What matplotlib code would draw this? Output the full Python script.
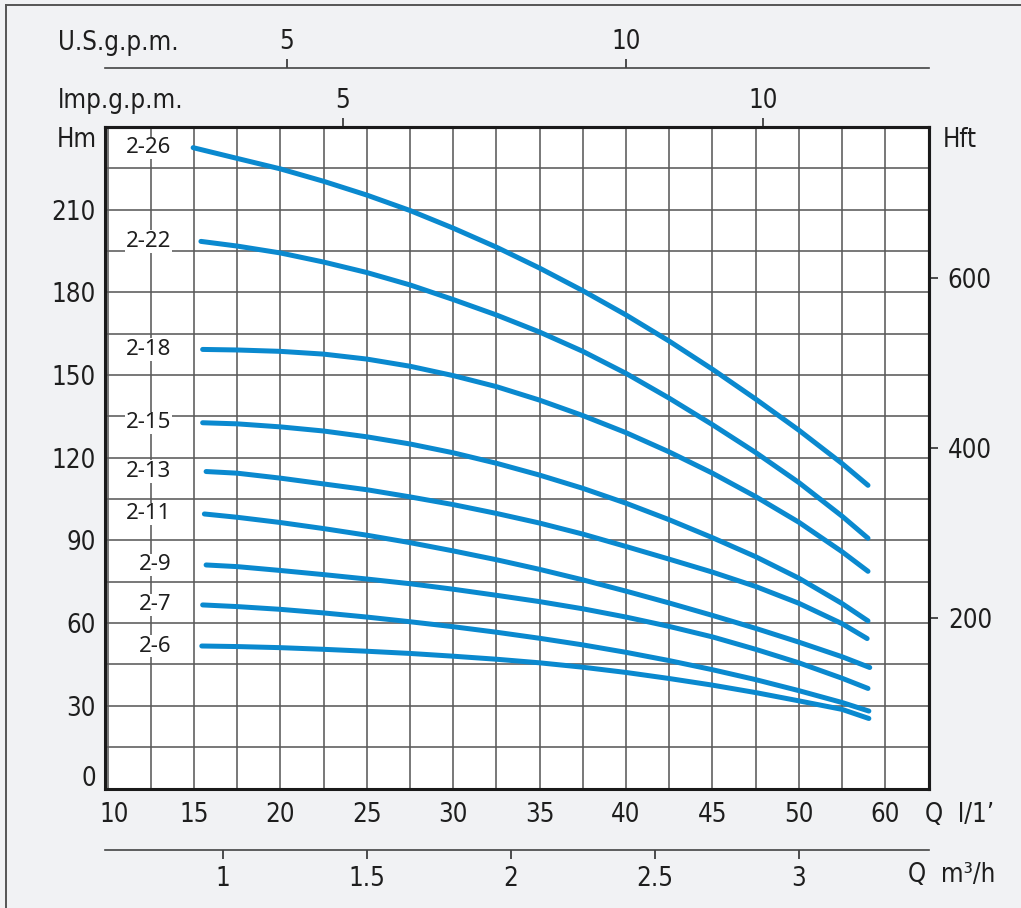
'''Pump curves H(Q) for the 2-xx series, with extra flow and head scales'''

import numpy as np
import matplotlib as ma
ma.use('agg')
import matplotlib.pyplot as plt
from matplotlib import font_manager
from matplotlib.transforms import ScaledTranslation
from matplotlib.lines import Line2D

# flow in l/min at the grid columns between start and end of each curve
q_grid = [17.5, 20, 22.5, 25, 27.5, 30, 32.5, 35, 37.5, 40, 42.5, 45, 47.5, 50, 52.5]

models = ['2-26', '2-22', '2-18', '2-15', '2-13', '2-11', '2-9', '2-7', '2-6']
q_start = [14.95, 15.4, 15.5, 15.5, 15.7, 15.6, 15.7, 15.5, 15.45]
q_end = [54.0, 54.0, 54.0, 54.0, 53.95, 54.1, 54.0, 54.05, 54.05]

# head in m: start, q_grid points, end
h_2_26 = [232.5, 228.6, 224.8, 220.3, 215.3, 209.7, 203.3, 196.4, 188.8, 180.6, 171.8, 162.3, 152.1, 141.3, 130, 117.9, 110]
h_2_22 = [198.5, 196.8, 194.3, 191.0, 187.2, 182.7, 177.4, 171.8, 165.6, 158.6, 150.6, 141.6, 132.0, 121.9, 111.0, 98.8, 90.8]
h_2_18 = [159.3, 159.1, 158.6, 157.6, 155.8, 153.2, 149.8, 145.8, 140.9, 135.3, 129.1, 122.1, 114.4, 105.9, 96.6, 85.9, 78.8]
h_2_15 = [132.7, 132.3, 131.2, 129.7, 127.6, 125.0, 121.8, 118.0, 113.7, 108.9, 103.5, 97.5, 91.0, 84.1, 76.3, 67.1, 60.8]
h_2_13 = [115, 114.4, 112.6, 110.5, 108.4, 105.8, 103.0, 99.8, 96.3, 92.3, 87.8, 83.2, 78.5, 73.3, 67.2, 59.8, 54.4]
h_2_11 = [99.6, 98.4, 96.5, 94.3, 91.9, 89.2, 86.2, 83.0, 79.5, 75.7, 71.6, 67.3, 62.8, 58.1, 53.1, 47.8, 43.9]
h_2_9 = [81.1, 80.5, 79.1, 77.6, 76.0, 74.3, 72.3, 70.1, 67.8, 65.2, 62.2, 58.8, 55.0, 50.5, 45.6, 40.0, 36.3]
h_2_7 = [66.6, 66.0, 65.0, 63.7, 62.2, 60.5, 58.7, 56.7, 54.5, 52.1, 49.4, 46.4, 43.1, 39.5, 35.5, 31.2, 28.1]
h_2_6 = [51.7, 51.5, 51.1, 50.5, 49.8, 49.0, 48.0, 46.9, 45.6, 44.0, 42.1, 39.9, 37.5, 34.8, 31.8, 28.7, 25.4]
heads = [h_2_26, h_2_22, h_2_18, h_2_15, h_2_13, h_2_11, h_2_9, h_2_7, h_2_6]

q_ticks = [10, 15, 20, 25, 30, 35, 40, 45, 50, 55]
q_labels = ['10', '15', '20', '25', '30', '35', '40', '45', '50', '60']
h_ticks = [0, 30, 60, 90, 120, 150, 180, 210]
ft_ticks = [200, 400, 600]
FT_PER_M = 3.24  # as the feet scale is printed on the sheet
m3h_ticks = [1, 1.5, 2, 2.5, 3]
m3h_labels = ['1', '1.5', '2', '2.5', '3']
# gallon scales as printed on the sheet, in l/min
us_ticks_lpm = [20.37, 40.0]
imp_ticks_lpm = [23.6, 47.92]
gal_labels = ['5', '10']

W, H = 1021, 908
BLUE = '#0a89cf'
GRID = '#5a5a5a'
TXT = '#1e1e1e'


def pick_font():
    fl = font_manager.fontManager.ttflist
    if any(f.name == 'DejaVu Sans' and f.stretch == 'condensed' for f in fl):
        return 'DejaVu Sans', 'condensed'
    if any(f.name == 'Liberation Sans Narrow' for f in fl):
        return 'Liberation Sans Narrow', 'normal'
    return 'DejaVu Sans', 'normal'


def shift(label, dx, dy, fig):
    label.set_transform(label.get_transform() +
                        ScaledTranslation(dx / 100, dy / 100, fig.dpi_scale_trans))


def main():
    fam, stretch = pick_font()
    plt.rcParams['font.family'] = [fam]
    plt.rcParams['font.stretch'] = stretch
    fs = 18.5

    fig = plt.figure(figsize=(W / 100, H / 100), dpi=100, facecolor='#f1f2f4')
    ax = fig.add_axes([105 / W, 1 - 788.5 / H, (929 - 105) / W, (788.5 - 127) / H])
    ax.set_facecolor('white')
    ax.set_xlim(9.85, 57.53)
    ax.set_ylim(0, 240)

    ax.set_xticks(q_ticks, q_labels)
    ax.set_xticks(np.arange(12.5, 56, 5), minor=True)
    ax.set_yticks(h_ticks, [str(v) for v in h_ticks])
    ax.set_yticks(np.arange(15, 240, 30), minor=True)
    ax.grid(which='both', color=GRID, lw=1.15)
    ax.set_axisbelow(True)
    ax.tick_params(which='both', length=0, labelsize=fs, colors=TXT)
    ax.tick_params(axis='x', pad=10)
    ax.tick_params(axis='y', pad=6.5)
    for s in ax.spines.values():
        s.set_linewidth(2.2)
        s.set_color('#1a1a1a')
    shift(ax.get_xticklabels()[0], 7, 0, fig)
    shift(ax.get_yticklabels()[0], 0, 13, fig)

    for name, q0, q1, h in zip(models, q_start, q_end, heads):
        q = [q0] + q_grid + [q1]
        ax.plot(q, h, color=BLUE, lw=3.6, solid_capstyle='round', solid_joinstyle='round')
        ax.text(13.7, h[0], name, ha='right', va='center', fontsize=16,
                family=['Noto Sans', 'DejaVu Sans'], stretch='normal', color=TXT,
                bbox=dict(facecolor='white', edgecolor='none', pad=0.5))

    # right: head in feet
    axr = ax.secondary_yaxis('right', functions=(lambda m: m * FT_PER_M, lambda f: f / FT_PER_M))
    axr.set_yticks(ft_ticks, [str(v) for v in ft_ticks])
    axr.tick_params(direction='out', length=6.5, width=1.1, pad=7, labelsize=fs, colors=TXT)
    axr.spines['right'].set_linewidth(2.2)
    axr.spines['right'].set_color('#1a1a1a')

    # top: Imp. gallons on the frame, U.S. gallons on a line above
    ax_imp = ax.secondary_xaxis('top')
    ax_imp.set_xticks(imp_ticks_lpm, gal_labels)
    ax_imp.tick_params(direction='out', length=6.5, width=1.1, pad=3, labelsize=fs, colors=TXT)
    ax_imp.spines['top'].set_linewidth(2.2)
    ax_imp.spines['top'].set_color('#1a1a1a')

    ax_us = ax.secondary_xaxis(1 + (127 - 67.7) / 661.5)
    ax_us.set_xticks(us_ticks_lpm, gal_labels)
    ax_us.tick_params(direction='out', length=6.5, width=1.1, pad=3, labelsize=fs, colors=TXT)
    ax_us.spines['top'].set_linewidth(1.2)
    ax_us.spines['top'].set_color('#444444')

    # bottom: m3/h
    ax_m3 = ax.secondary_xaxis(-(850 - 788.5) / 661.5,
                               functions=(lambda q: q * 0.06, lambda m: m / 0.06))
    ax_m3.set_xticks(m3h_ticks, m3h_labels)
    ax_m3.tick_params(direction='out', length=6.5, width=1.1, pad=5, labelsize=fs, colors=TXT)
    ax_m3.spines['bottom'].set_linewidth(1.2)
    ax_m3.spines['bottom'].set_color('#444444')

    def ftext(x, y, s, va='center'):
        fig.text(x / W, 1 - y / H, s, ha='left', va=va, fontsize=fs, color=TXT)

    ftext(57, 140, 'Hm')
    ftext(943, 140, 'Hft')
    ftext(58, 50, 'U.S.g.p.m.', va='baseline')
    ftext(58, 108, 'lmp.g.p.m.', va='baseline')
    ftext(925, 815, 'Q  l/1\u2019')
    ftext(908, 875, 'Q  m\u00b3/h')

    # sheet frame (top and left edges visible)
    fig.add_artist(Line2D([6 / W, 6 / W], [0, 1 - 5 / H], transform=fig.transFigure,
                          color='#555555', lw=1.4))
    fig.add_artist(Line2D([6 / W, 1], [1 - 5 / H, 1 - 5 / H], transform=fig.transFigure,
                          color='#555555', lw=1.4))

    fig.savefig('out.png', dpi=100, facecolor=fig.get_facecolor())


if __name__ == "__main__":
    main()
